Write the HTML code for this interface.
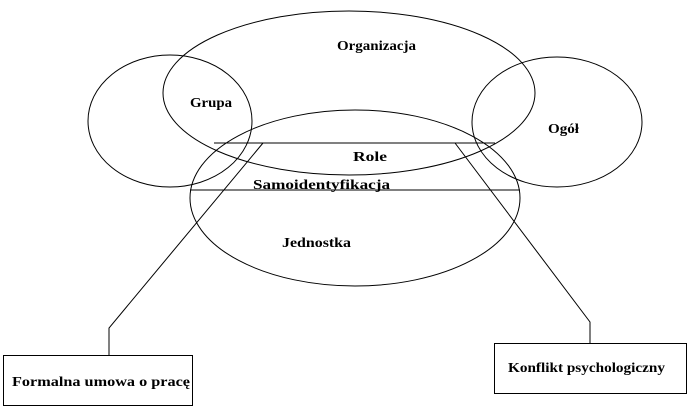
<!DOCTYPE html>
<html><head><meta charset="utf-8"><style>
body{margin:0;background:#fff}
svg{display:block}
text{font-family:"Liberation Serif",serif;font-size:14px;font-weight:bold;fill:#000}
</style></head><body>
<svg width="690" height="420" viewBox="0 0 690 420" xmlns="http://www.w3.org/2000/svg">
<g fill="none" stroke="#000" stroke-width="1">
<ellipse cx="349" cy="93" rx="186" ry="82"/>
<ellipse cx="170" cy="121" rx="82" ry="66"/>
<ellipse cx="557" cy="122" rx="85" ry="65"/>
<ellipse cx="355" cy="198" rx="165" ry="88"/>
<line x1="214" y1="143" x2="495" y2="143"/>
<line x1="190" y1="190" x2="520" y2="190"/>
<polyline points="263,143 109,328 109,355"/>
<polyline points="455,143 590,322 590,343"/>
<rect x="3.5" y="355.5" width="189" height="50"/>
<rect x="494.5" y="343.5" width="192" height="50"/>
</g>
<text x="337" y="50" textLength="79" lengthAdjust="spacingAndGlyphs">Organizacja</text>
<text x="190" y="107" textLength="42" lengthAdjust="spacingAndGlyphs">Grupa</text>
<text x="548" y="133" textLength="31" lengthAdjust="spacingAndGlyphs">Ogół</text>
<text x="353" y="161" textLength="34" lengthAdjust="spacingAndGlyphs">Role</text>
<text x="253" y="189" textLength="137" lengthAdjust="spacingAndGlyphs">Samoidentyfikacja</text>
<text x="282" y="247" textLength="69" lengthAdjust="spacingAndGlyphs">Jednostka</text>
<text x="12" y="386" textLength="178" lengthAdjust="spacingAndGlyphs">Formalna umowa o pracę</text>
<text x="508" y="372" textLength="157" lengthAdjust="spacingAndGlyphs">Konflikt psychologiczny</text>
</svg>
</body></html>
